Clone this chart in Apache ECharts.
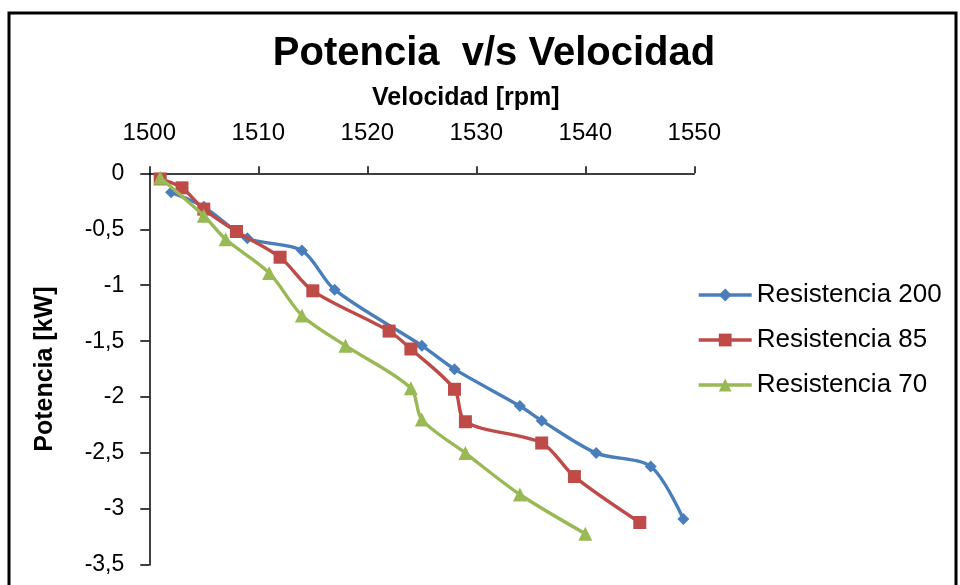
<!DOCTYPE html>
<html>
<head>
<meta charset="utf-8">
<script src="https://cdn.jsdelivr.net/npm/echarts@6/dist/echarts.min.js"></script>
<style>
html,body{margin:0;padding:0;background:#fff;}
#chart{width:960px;height:585px;}
</style>
</head>
<body>
<div id="chart"></div>
<script>
// Data
const seriesNames = ['Resistencia 200', 'Resistencia 85', 'Resistencia 70'];
const r200X = [1502, 1505, 1509, 1514, 1517, 1525, 1528, 1534, 1536, 1541, 1546, 1549];
const r200Y = [-0.17, -0.30, -0.58, -0.69, -1.04, -1.54, -1.75, -2.08, -2.21, -2.50, -2.62, -3.09];
const r85X = [1501, 1503, 1505, 1508, 1512, 1515, 1522, 1524, 1528, 1529, 1536, 1539, 1545];
const r85Y = [-0.05, -0.13, -0.32, -0.52, -0.75, -1.05, -1.41, -1.57, -1.93, -2.22, -2.41, -2.71, -3.12];
const r70X = [1501, 1505, 1507, 1511, 1514, 1518, 1524, 1525, 1529, 1534, 1540];
const r70Y = [-0.04, -0.38, -0.59, -0.89, -1.27, -1.54, -1.92, -2.20, -2.50, -2.87, -3.22];
const xTicks = [1500, 1510, 1520, 1530, 1540, 1550];
const yTicks = [0, -0.5, -1, -1.5, -2, -2.5, -3, -3.5];

const pair = (xs, ys) => xs.map((x, i) => [x, ys[i]]);
const FONT = '"Liberation Sans", Arial, sans-serif';

const chart = echarts.init(document.getElementById('chart'), null, {renderer: 'canvas'});
chart.setOption({
  backgroundColor: '#ffffff',
  animation: false,
  title: {
    text: 'Potencia  v/s Velocidad',
    left: 489, textAlign: 'center', top: 29,
    textStyle: {fontFamily: FONT, fontSize: 40, fontWeight: 'bold', color: '#000'}
  },
  graphic: [{
    type: 'rect', silent: true,
    shape: {x: 9, y: 13, width: 947, height: 600},
    style: {fill: null, stroke: '#000', lineWidth: 3}
  }],
  legend: {
    orient: 'vertical', left: 697, top: 282, padding: 0,
    itemWidth: 53, itemHeight: 16, itemGap: 19,
    data: seriesNames,
    lineStyle: {width: 3.4},
    textStyle: {fontFamily: FONT, fontSize: 26, color: '#000'}
  },
  grid: {left: 149.3, right: 265.7, top: 173.3, bottom: 20, containLabel: false},
  xAxis: {
    type: 'value', position: 'top',
    min: xTicks[0], max: xTicks[xTicks.length - 1], interval: 10,
    name: 'Velocidad [rpm]', nameLocation: 'middle', nameGap: 63,
    nameTextStyle: {fontFamily: FONT, fontSize: 25, fontWeight: 'bold', color: '#000', padding: [0, 0, 0, 88]},
    axisLine: {show: true, onZero: false, lineStyle: {color: '#000', width: 1.5}},
    axisTick: {show: true, length: 7, lineStyle: {color: '#000', width: 1.5}},
    axisLabel: {fontFamily: FONT, fontSize: 24, color: '#000', margin: 28,
      formatter: v => String(v)},
    splitLine: {show: false}
  },
  yAxis: {
    type: 'value',
    min: yTicks[yTicks.length - 1], max: yTicks[0], interval: 0.5,
    name: 'Potencia [kW]', nameLocation: 'middle', nameGap: 92, nameRotate: 90,
    nameTextStyle: {fontFamily: FONT, fontSize: 25, fontWeight: 'bold', color: '#000'},
    axisLine: {show: true, onZero: false, lineStyle: {color: '#000', width: 1.5}},
    axisTick: {show: true, length: 9, lineStyle: {color: '#000', width: 1.5}},
    axisLabel: {fontFamily: FONT, fontSize: 23, color: '#000', margin: 25,
      formatter: v => String(v).replace('.', ',')},
    splitLine: {show: false}
  },
  series: [
    {name: seriesNames[0], type: 'line', data: pair(r200X, r200Y), smooth: 0.3,
      symbol: 'diamond', symbolSize: 12, color: '#4A7EBB',
      lineStyle: {width: 3.4, color: '#4A7EBB'}, itemStyle: {color: '#4A7EBB'}, z: 3},
    {name: seriesNames[1], type: 'line', data: pair(r85X, r85Y), smooth: 0.3,
      symbol: 'rect', symbolSize: 13, color: '#BE4B48',
      lineStyle: {width: 3.4, color: '#BE4B48'}, itemStyle: {color: '#BE4B48'}, z: 4},
    {name: seriesNames[2], type: 'line', data: pair(r70X, r70Y), smooth: 0.3,
      symbol: 'triangle', symbolSize: 14, color: '#98B954',
      lineStyle: {width: 3.4, color: '#98B954'}, itemStyle: {color: '#98B954'}, z: 5}
  ]
});
</script>
</body>
</html>
